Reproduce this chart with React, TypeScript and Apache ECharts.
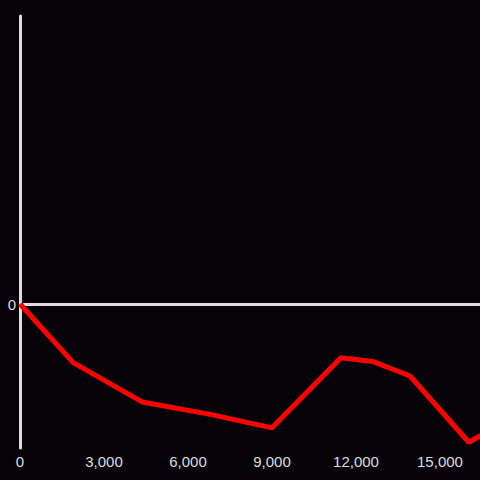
import React, { useEffect, useRef } from "react";
import * as echarts from "echarts";

const xValues = [0, 1900, 4360, 6790, 9000, 11460, 12610, 13930, 16030, 17500];
const yValues = [0, -61, -102, -115, -129, -56, -60, -75, -144, -120];
const xTickStep = 3000;

export default function App() {
  const ref = useRef<HTMLDivElement>(null);
  useEffect(() => {
    if (!ref.current) return;
    const chart = echarts.init(ref.current, null, { renderer: "svg" });
    const data = xValues.map((x, i) => [x, yValues[i]]);
    chart.setOption({
      animation: false,
      backgroundColor: "#050307",
      grid: { left: 20, right: 0, top: 16, bottom: 32, containLabel: false },
      xAxis: {
        type: "value",
        min: 0,
        max: 16430,
        interval: xTickStep,
        axisLine: { show: false },
        axisTick: { show: false },
        splitLine: { show: false },
        axisLabel: {
          color: "#dddddd",
          fontSize: 15,
          fontFamily: "Liberation Sans, Arial, sans-serif",
          margin: 6,
          showMaxLabel: false,
          formatter: (v: number) => v.toLocaleString("en-US"),
        },
      },
      yAxis: {
        type: "value",
        min: -150,
        max: 300,
        interval: 150,
        axisLine: { show: true, lineStyle: { color: "#dddddd", width: 3 } },
        axisTick: { show: false },
        splitLine: { show: false },
        axisLabel: {
          color: "#dddddd",
          fontSize: 15,
          fontFamily: "Liberation Sans, Arial, sans-serif",
          margin: 4,
          formatter: (v: number) => (v === 0 ? "0" : ""),
        },
      },
      series: [
        {
          type: "line",
          data,
          symbol: "none",
          clip: true,
          lineStyle: { color: "#ff0000", width: 5 },
          z: 3,
          markLine: {
            silent: true,
            symbol: "none",
            label: { show: false },
            lineStyle: { color: "#dddddd", width: 3, type: "solid" },
            data: [{ yAxis: 0 }],
            z: 2,
          },
        },
      ],
    });
    return () => chart.dispose();
  }, []);
  return <div ref={ref} style={{ width: 480, height: 480, position: "absolute", left: 0, top: 0 }} />;
}
